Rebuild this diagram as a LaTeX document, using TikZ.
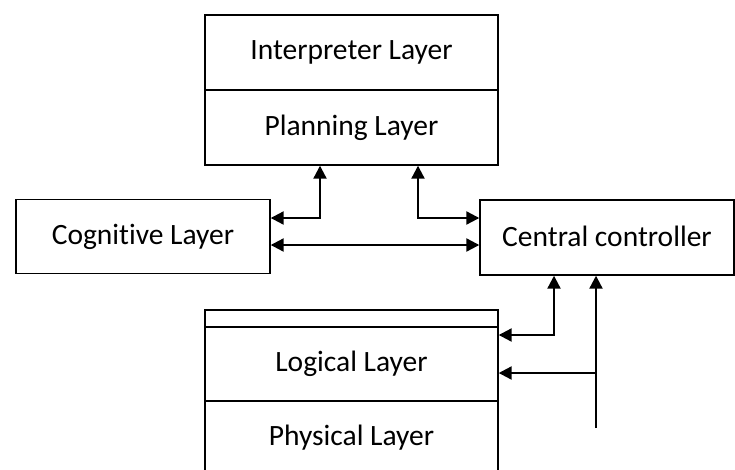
\documentclass[tikz,border=0pt]{standalone}
\usepackage{fontspec}
\setmainfont[Ligatures=NoCommon]{Carlito}
\usetikzlibrary{arrows.meta}
\begin{document}
\begin{tikzpicture}[x=1pt,y=-1pt,
  layer/.style={draw,line width=1.4pt,minimum width=293pt,inner sep=0pt,
    font=\fontsize{29.5}{34}\selectfont},
  side/.style={draw,line width=1.4pt,minimum width=254pt,minimum height=74pt,inner sep=0pt,
    font=\fontsize{29.5}{34}\selectfont},
  link/.style={line width=2.2pt},
  tip/.style={-{Triangle[length=13pt,width=13pt]}},
  bitip/.style={{Triangle[length=13pt,width=13pt]}-{Triangle[length=13pt,width=13pt]}}]
\useasboundingbox (0,0) rectangle (735,469);
% upper stack
\node[layer,minimum height=75pt] (interp) at (351.5,52.5) {\raisebox{2pt}{Interpreter Layer}};
\node[layer,minimum height=75pt] (plan) at (351.5,127.5) {\raisebox{2pt}{Planning Layer}};
% side boxes
\node[side] (cog) at (143,236.5) {\raisebox{3pt}{Cognitive Layer}};
\node[side,minimum width=254pt,minimum height=75pt] (ctrl) at (607,237.5) {\raisebox{3pt}{Central controller}};
% lower stack
\node[layer,minimum height=17pt] (blank) at (351.5,318.5) {};
\node[layer,minimum height=74pt] (logic) at (351.5,364) {\raisebox{2pt}{Logical Layer}};
\node[layer,minimum height=74pt] (phys) at (351.5,438) {\raisebox{2pt}{Physical Layer}};
% junction points
\coordinate (j1) at (320,218);
\coordinate (j2) at (418,218);
\coordinate (j3) at (0,245);
\coordinate (j4) at (554,335);
\coordinate (j5) at (596,373);
\coordinate (j6) at (596,428);
% connectors
\draw[link,bitip] (cog.east |- j1) -- (j1) -- (j1 |- plan.south);
\draw[link,bitip] (j2 |- plan.south) -- (j2) -- (ctrl.west |- j2);
\draw[link,bitip] (cog.east |- j3) -- (ctrl.west |- j3);
\draw[link,bitip] (j4 |- ctrl.south) -- (j4) -- (logic.east |- j4);
\draw[link,tip] (j6) -- (j6 |- ctrl.south);
\draw[link,tip] (j5) -- (logic.east |- j5);
\end{tikzpicture}
\end{document}
